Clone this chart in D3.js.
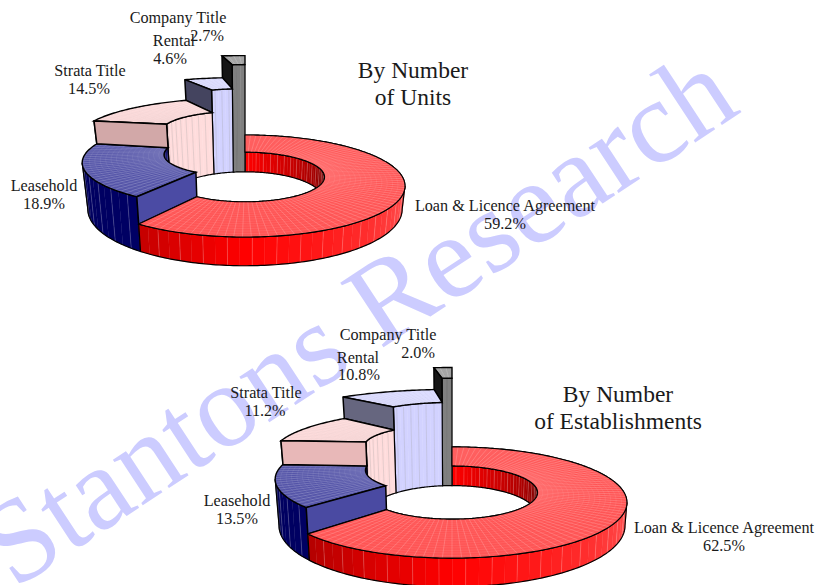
<!DOCTYPE html>
<html>
<head>
<meta charset="utf-8">
<style>
	html, body { margin: 0; padding: 0; background: #fff; }
	svg { display: block; }
	text { font-family: 'Liberation Serif', serif; fill: #1a1a1a; }
</style>
<script src="https://cdn.jsdelivr.net/npm/d3@7"></script>
</head>
<body>
<script>
const categories = ['Loan & Licence Agreement', 'Leasehold', 'Strata Title', 'Rental', 'Company Title']
const unitShares = [59.2, 18.9, 14.5, 4.6, 2.7]
const establishmentShares = [62.5, 13.5, 11.2, 10.8, 2.0]
const titleLinesUnits = ['By Number', 'of Units']
const titleLinesEstablishments = ['By Number', 'of Establishments']

const width = 815
const height = 585
const deg = Math.PI / 180
const fmt = d => d.toFixed(1) + '%'

// how far each slice stands above the red one, and how deep the base goes
const lifts = [0, 22, 46, 71, 98]
const baseZ = -22

const topColors = ['#ff5555', '#5454a8', '#ffdcdc', '#dadaff', '#9a9a9a']
const wallColors = ['#ff0000', '#000060', '#ffdcdc', '#d2d2ff', '#808080']
// pale walls get dark ribs, dark walls get light ones
const ribColors = ['#fff', '#fff', '#777', '#777', '#333']

const outerRed = d3.scaleLinear().domain([100, 180, 213, 240]).range(['#ff5a5a', '#ff0000', '#c40000', '#a00000'])
const innerRed = d3.scaleLinear().domain([0, 70, 90, 97]).range(['#ff0000', '#a00000', '#700000', '#555555'])

const svg = d3.select('body').append('svg').attr('width', width).attr('height', height)

svg.append('text')
	.attr('transform', 'translate(14,590) rotate(-33.3)')
	.attr('font-size', 118.5)
	.style('fill', '#ccccff')
	.text('Stantons Research')

function drawRing(values, opt) {
	const { cx, cy, R, r, D, tilt, rise, faces } = opt
	const g = svg.append('g')
	const arcs = d3.pie().sort(null).startAngle(0).endAngle(2 * Math.PI)(values)
	const outerLimit = Math.acos(-R / D)
	const innerLimit = Math.acos(-r / D)

	const project = (rr, a, z) => {
		const y = -rr * Math.cos(a)
		const s = 1 / (1 - y / D)
		// higher points are a little closer to the camera
		return [cx + rr * Math.sin(a) * s * (1 + z * rise), cy + (y * tilt - z) * s]
	}
	const line = d3.line()
	const steps = (a0, a1, n) => d3.range(n + 1).map(i => a0 + (a1 - a0) * i / n)
	const arcPts = (rr, a0, a1, z) => steps(a0, a1, Math.max(2, Math.ceil((a1 - a0) / deg))).map(a => project(rr, a, z))

	function wall(rr, a0, a1, zTop, color, strip, rib) {
		if (a1 <= a0) return
		const n = Math.max(1, Math.round((a1 - a0) / (strip * deg)))
		const as = steps(a0, a1, n)
		d3.pairs(as).forEach(([p, q]) => {
			const pts = [...arcPts(rr, p, q, zTop), ...arcPts(rr, p, q, baseZ).reverse()]
			g.append('path')
				.attr('d', line(pts) + 'Z')
				.attr('fill', color((p + q) / 2 / deg))
				.attr('stroke', color((p + q) / 2 / deg))
				.attr('stroke-width', 0.4)
		})
		as.slice(1, -1).forEach((a, i) => {
			if (i % 2) return
			g.append('path')
				.attr('d', line([project(rr, a, zTop), project(rr, a, baseZ)]))
				.attr('stroke', rib)
				.attr('stroke-opacity', 0.28)
				.attr('stroke-width', 0.7)
		})
		const outline = [...arcPts(rr, a0, a1, zTop), ...arcPts(rr, a0, a1, baseZ).reverse()]
		g.append('path')
			.attr('d', line(outline) + 'Z')
			.attr('fill', 'none')
			.attr('stroke', '#000')
			.attr('stroke-width', 1.2)
	}

	function topFace(i) {
		const d = arcs[i]
		const z = lifts[i]
		g.append('path')
			.attr('d', line([...arcPts(R, d.startAngle, d.endAngle, z), ...arcPts(r, d.startAngle, d.endAngle, z).reverse()]) + 'Z')
			.attr('fill', topColors[i])
		const n = Math.max(2, Math.round((d.endAngle - d.startAngle) / (2.5 * deg)))
		steps(d.startAngle, d.endAngle, n).slice(1, -1).forEach(a => {
			g.append('path')
				.attr('d', line([project(r, a, z), project(R, a, z)]))
				.attr('stroke', i === 2 || i === 3 ? '#999' : '#fff')
				.attr('stroke-opacity', i === 2 || i === 3 ? 0.15 : 0.3)
				.attr('stroke-width', 0.6)
		})
		d3.range(r + 5, R, 5).forEach(rr => {
			g.append('path')
				.attr('d', line(arcPts(rr, d.startAngle, d.endAngle, z)))
				.attr('fill', 'none')
				.attr('stroke', '#fff')
				.attr('stroke-opacity', 0.12)
				.attr('stroke-width', 0.6)
		})
		g.append('path')
			.attr('d', line([...arcPts(R, d.startAngle, d.endAngle, z), ...arcPts(r, d.startAngle, d.endAngle, z).reverse()]) + 'Z')
			.attr('fill', 'none')
			.attr('stroke', '#000')
			.attr('stroke-width', i === 0 ? 1.1 : 1.4)
	}

	function frontFace(i) {
		const a = arcs[i].startAngle
		const zLow = lifts[i - 1]
		const zHigh = lifts[i]
		g.append('path')
			.attr('d', line([project(R, a, zHigh), project(r, a, zHigh), project(r, a, zLow), project(R, a, zLow)]) + 'Z')
			.attr('fill', faces[i])
			.attr('stroke', '#000')
			.attr('stroke-width', 1.5)
			.attr('stroke-linejoin', 'round')
	}

	// back part of the hole: inner walls, red first
	wall(r, arcs[0].startAngle, Math.min(arcs[0].endAngle, innerLimit), 0, innerRed, 3, '#fff')
	topFace(0)
	for (let i = 4; i >= 1; i--) {
		const color = () => wallColors[i]
		wall(r, Math.max(arcs[i].startAngle, 2 * Math.PI - innerLimit), arcs[i].endAngle, lifts[i], color, 3, ribColors[i])
	}

	// raised slices, tallest at the back
	for (let i = 4; i >= 2; i--) {
		topFace(i)
		frontFace(i)
	}

	// the blue slice and the near walls sit in front of everything else
	const navy = d3.scaleLinear().domain([200, 245, 258]).range(['#000066', '#000060', '#2c2c48'])
	wall(R, arcs[1].startAngle, Math.min(arcs[1].endAngle, 2 * Math.PI - outerLimit), lifts[1], navy, 4, '#fff')
	wall(R, outerLimit, arcs[0].endAngle, 0, outerRed, 3.5, '#fff')
	topFace(1)
	frontFace(1)
	topFace(0)
	frontFace(2)
}

drawRing(unitShares, {
	cx: 245, cy: 174, R: 155.5, r: 79, D: 662, tilt: 0.31, rise: 0.0008,
	faces: [null, '#4b4ba4', '#d2a8a8', '#44445f', '#151515']
})
drawRing(establishmentShares, {
	cx: 452, cy: 489.4, R: 170, r: 85, D: 723, tilt: 0.309, rise: 0.0005,
	faces: [null, '#4a4aa2', '#e8b8b8', '#66667f', '#151515']
})

// label text: [category index, x, y of name, x, y of share]
const unitLabels = [
	[0, 505, 211, 505, 229],
	[1, 44, 191, 44, 209],
	[2, 90, 76, 89, 94],
	[3, 174, 46, 170, 64],
	[4, 178, 23, 207, 41]
]
const establishmentLabels = [
	[0, 724, 533, 724, 551],
	[1, 237, 506, 237, 524],
	[2, 266, 398, 265, 416],
	[3, 358, 363, 359, 380],
	[4, 388, 340, 418, 358]
]

function drawLabels(labels, values) {
	labels.forEach(([i, x0, y0, x1, y1]) => {
		svg.append('text').attr('x', x0).attr('y', y0).attr('text-anchor', 'middle').attr('font-size', 16.2).text(categories[i])
		svg.append('text').attr('x', x1).attr('y', y1).attr('text-anchor', 'middle').attr('font-size', 16.2).text(fmt(values[i]))
	})
}
drawLabels(unitLabels, unitShares)
drawLabels(establishmentLabels, establishmentShares)

function drawTitle(lines, x, y) {
	lines.forEach((t, i) => {
		svg.append('text')
			.attr('x', x)
			.attr('y', y + i * 27)
			.attr('text-anchor', 'middle')
			.attr('font-size', 23.5)
			.text(t)
	})
}
drawTitle(titleLinesUnits, 413, 78)
drawTitle(titleLinesEstablishments, 618, 402)
</script>
</body>
</html>
